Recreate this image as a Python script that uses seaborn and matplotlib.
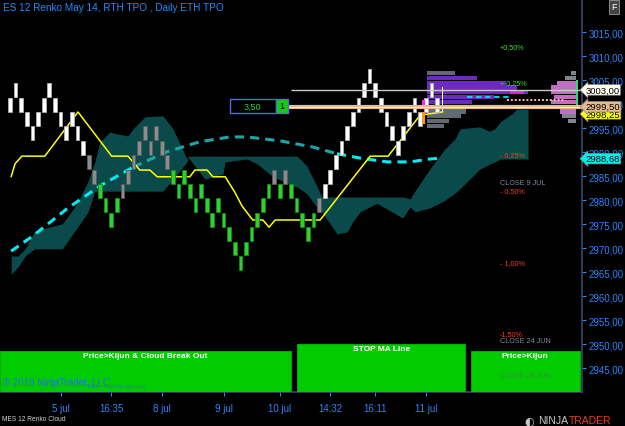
import numpy as np
import pandas as pd
import matplotlib
matplotlib.use("Agg")
import matplotlib.pyplot as plt
import matplotlib.transforms as mtrans
from matplotlib.patches import Rectangle
import seaborn as sns

# ---------------- data ----------------
brick_top = [3001.5, 3004.5, 3001.5, 2998.5, 2995.5, 2998.5, 3001.5, 3004.5, 3001.5, 2998.5,
             2995.5, 2998.5, 2995.5, 2992.5, 2989.5, 2986.5, 2983.5, 2980.5, 2977.5, 2980.5,
             2983.5, 2986.5, 2989.5, 2992.5, 2995.5, 2992.5, 2995.5, 2992.5, 2989.5, 2986.5,
             2983.5, 2986.5, 2983.5, 2980.5, 2983.5, 2980.5, 2977.5, 2980.5, 2977.5, 2974.5,
             2971.5, 2968.5, 2971.5, 2974.5, 2977.5, 2980.5, 2983.5, 2986.5, 2983.5, 2986.5,
             2983.5, 2980.5, 2977.5, 2974.5, 2977.5, 2980.5, 2983.5, 2986.5, 2989.5, 2992.5,
             2995.5, 2998.5, 3001.5, 3004.5, 3007.5, 3004.5, 3001.5, 2998.5, 2995.5, 2992.5,
             2995.5, 2998.5, 3001.5, 2998.5, 3001.5, 3004.5, 3001.5]
brick_kind = ("WWWWWWWWWWWWWW" + "GG" + "LLLL" + "GGGGGGGGG" + "LLLLLLLLLLLLLLLLLL"
              + "GLG" + "LLLLL" + "G" + "WWWWWWWWWWWWWWWWWWWWW")
brick_size = 3.0
forming_brick = (77, 2998.5, 3003.6)

# Ichimoku cloud (bar index, upper span, lower span)
cloud_idx = [0.2, 1.4, 2.7, 4.4, 9.3, 11.9, 13.9, 15.1, 16.0, 17.8, 19.2, 21.0, 21.9, 24.0,
             27.2, 29.0, 31.5, 31.7, 32.6, 34.7, 37.9, 38.3, 42.2, 44.0, 46.8, 50.4, 51.1,
             52.8, 54.6, 55.5, 58.2, 60.0, 61.0, 62.3, 65.3, 69.9, 71.2, 72.1, 74.7, 77.4,
             79.2, 80.1, 83.6, 85.3, 86.3, 87.2, 89.3, 90.2, 92.2]
cloud_top = [2968.4, 2968.4, 2969.9, 2973.6, 2975.1, 2979.2, 2984.0, 2988.0, 2992.2, 2994.2,
             2993.8, 2993.4, 2994.9, 2997.4, 2997.6, 2994.9, 2988.6, 2989.2, 2989.2, 2989.2,
             2989.2, 2989.2, 2989.2, 2989.2, 2989.2, 2989.2, 2989.2, 2987.2, 2983.0, 2980.7,
             2980.7, 2980.7, 2980.7, 2980.7, 2980.7, 2980.7, 2980.3, 2982.0, 2986.5, 2990.7,
             2992.8, 2994.9, 2995.3, 2994.4, 2994.9, 2996.3, 2998.0, 2999.0, 2999.0]
cloud_bot = [2964.6, 2966.1, 2968.4, 2969.9, 2969.9, 2974.2, 2977.6, 2981.9, 2981.9, 2981.9,
             2981.9, 2981.9, 2981.9, 2981.9, 2981.9, 2984.4, 2988.0, 2989.0, 2987.6, 2984.4,
             2985.5, 2988.0, 2988.6, 2987.6, 2984.9, 2983.0, 2982.8, 2981.4, 2978.6, 2977.6,
             2973.0, 2973.4, 2975.5, 2977.6, 2979.4, 2976.3, 2978.6, 2977.6, 2978.4, 2980.0,
             2981.5, 2982.4, 2986.5, 2987.5, 2988.0, 2988.6, 2988.6, 2988.6, 2988.6]

# Kijun (yellow)
kijun_idx = [0.2, 0.9, 2.1, 6.2, 12.1, 18.1, 21.0, 23.1, 24.9, 26.2, 32.0, 32.9, 35.1, 36.1,
             38.3, 40.0, 41.3, 43.2, 45.0, 46.1, 47.2, 55.2, 64.1, 67.3, 73.0, 77.0]
kijun_val = [2984.9, 2987.6, 2989.2, 2989.2, 2998.4, 2989.2, 2989.2, 2986.3, 2986.3, 2984.9,
             2984.9, 2986.3, 2986.3, 2984.9, 2984.9, 2981.7, 2978.8, 2975.9, 2975.9, 2974.4,
             2975.9, 2975.9, 2989.2, 2989.2, 2997.75, 2998.4]

# Moving average (dashed cyan)
ma_idx = [0.2, 4.1, 10.1, 16.0, 21.9, 27.9, 33.8, 39.1, 42.2, 48.0, 53.9, 58.2, 62.3, 67.1,
          71.2, 74.7, 77.0]
ma_val = [2969.4, 2972.6, 2978.2, 2983.0, 2986.9, 2990.1, 2992.2, 2993.2, 2993.2, 2992.4,
          2991.1, 2989.7, 2988.8, 2988.0, 2988.0, 2988.6, 2988.8]

# TPO profile
tpo_price = [3006.5, 3005.5, 3004.5, 3003.5, 3002.5, 3001.5, 3000.5, 2999.5, 2998.5, 2997.5,
             2996.5, 2995.5]
tpo_len = [5, 9, 14, 16, 18, 12, 8, 6, 7, 6, 4, 3]
tpo_purple = [0, 1, 1, 1, 1, 1, 1, 0, 0, 0, 0, 0]
eth_price = [3006.5, 3005.5, 3004.5, 3003.5, 3002.5, 3001.5, 3000.5, 2999.5, 2998.5, 2997.5, 2996.5]
eth_len = [1.0, 2.0, 3.5, 4.5, 4.5, 4.0, 4.5, 4.0, 3.0, 2.5, 1.5]

# percent levels
pct_text = ["+0,50%", "+ 0,25%", "- 0,25%", "CLOSE 9 JUL", "- 0,50%", "- 1,00%", "-1,50%",
            "CLOSE 24 JUN"]
pct_price = [3012.1, 3004.6, 2989.6, 2983.8, 2982.1, 2967.1, 2952.2, 2950.7]
pct_kind = ["up", "up", "dn", "cl", "dn", "dn", "dn", "cl"]

price_tags = [("2998,25", 2998.0, "#ffff00"), ("3003,00", 3003.0, "#fffff0"),
              ("2999,50", 2999.5, "#e6b98c"), ("2988,68", 2988.68, "#00f0f0")]
line_3003 = 3003.0
line_2999 = 2999.5

xtick_pos = [9, 18, 27, 38, 48, 57, 65, 74]
xtick_lab = ["5 jul", "16:35", "8 jul", "9 jul", "10 jul", "14:32", "16:11", "11 jul"]
ytick_vals = [2945, 2950, 2955, 2960, 2965, 2970, 2975, 2980, 2985, 2990, 2995, 3000,
              3005, 3010, 3015]

# ---------------- figure ----------------
sns.set_theme(style="dark")
plt.rcParams["font.family"] = ["Liberation Sans", "DejaVu Sans"]
BLUE = "#2f83ff"

fig = plt.figure(figsize=(6.25, 4.27), dpi=100, facecolor="black")
ax = fig.add_axes([0, 34 / 427, 582 / 625, 393 / 427])
ax.set_facecolor("black")
ax.set_xlim(-1.78, 101.8)
ax.set_ylim(2940.06, 3021.94)

# cloud
ax.fill_between(cloud_idx, cloud_top, cloud_bot, color="#0b4a4a", lw=0, zorder=1)

# moving average (two shades)
ma = pd.DataFrame({"i": ma_idx, "v": ma_val})
seg1 = ma[ma.i <= 21.9]
seg2 = ma[(ma.i >= 21.9) & (ma.i <= 58.2)]
seg3 = ma[ma.i >= 58.2]
for seg, col in [(seg1, "#00ecf0"), (seg2, "#1aa6a8"), (seg3, "#00ecf0")]:
    sns.lineplot(data=seg, x="i", y="v", ax=ax, color=col, lw=2.2, linestyle=(0, (3, 2)),
                 zorder=3, sort=False)

# kijun
kj = pd.DataFrame({"i": kijun_idx, "v": kijun_val})
sns.lineplot(data=kj, x="i", y="v", ax=ax, color="#ffff00", lw=1.1, zorder=4, sort=False)

# bricks
col_map = {"W": ("#ffffff", "#b0b0b0"), "G": ("#8c8c8c", "#5a5a5a"), "L": ("#30d030", "#178a17")}
for i, (top, k) in enumerate(zip(brick_top, brick_kind)):
    fc, ec = col_map[k]
    ax.bar(i, brick_size * 0.97, bottom=top - brick_size, width=0.66, color=fc,
           edgecolor=ec, lw=0.6, zorder=5)
fi, fb, ft = forming_brick
ax.bar(fi, ft - fb, bottom=fb, width=0.25, color="#ffffff", lw=0, zorder=5)

# TPO profiles
for p, L, pur in zip(tpo_price, tpo_len, tpo_purple):
    ax.barh(p, L, left=74.2, height=0.85, color="#7a2fd6" if pur else "#6f7580",
            alpha=0.9, lw=0, zorder=2)
ax.barh(3002.5, 2.5, left=89.0, height=0.6, color="#e020e0", lw=0, zorder=2)
for p, L in zip(eth_price, eth_len):
    ax.barh(p, L, left=100.8 - L, height=0.85,
            color="#c070c0" if 2998 < p < 3005 else "#80848c", lw=0, zorder=2)
ax.bar(100.9, 5.5, bottom=2999.5, width=0.5, color="#22dd77", lw=0, zorder=2)
ax.bar(73.6, 1.2, bottom=2999.6, width=0.45, color="#ff22ff", lw=0, zorder=6)
ax.bar(73.6, 2.6, bottom=2995.8, width=0.45, color="#ff9900", lw=0, zorder=6)

# horizontal levels
ax.hlines(line_3003, 50.0, 101.8, color="#c8c8c8", lw=1.0, zorder=6)
ax.hlines(line_2999, 49.5, 101.8, color="#e8b888", lw=3.0, zorder=6)
ax.hlines(line_2999, 49.5, 101.8, color="#fff0dd", lw=0.7, zorder=6)
ax.hlines(3001.5, 81.3, 89.1, color="#00e5ee", lw=1.3, linestyles=(0, (3, 2)), zorder=6)
ax.hlines(3001.0, 88.4, 98.8, color="#ffb6c8", lw=1.4, linestyles=(0, (1, 1)), zorder=6)

# 3,50 box
ax.add_patch(Rectangle((39.1, 2998.2), 8.2, 2.9, facecolor="black", edgecolor="#4a6fd8",
                       lw=1.0, zorder=7))
ax.add_patch(Rectangle((47.3, 2998.2), 2.2, 2.9, facecolor="#11cc11", edgecolor="#4a6fd8",
                       lw=1.0, zorder=7))
ax.text(43.2, 2999.65, "3,50", color="#33cc33", fontsize=6.5, ha="center", va="center", zorder=8)
ax.text(48.4, 2999.65, "1", color="black", fontsize=6.5, ha="center", va="center", zorder=8)

# percent labels
pc = {"up": "#33dd33", "dn": "#ff3a10", "cl": "#7c8a9a"}
for t, p, k in zip(pct_text, pct_price, pct_kind):
    ax.text(87.2, p, t, color=pc[k], fontsize=5.2, ha="left", va="center", zorder=9)

# bottom signal boxes
for x0, x1, ytop, label in [(-1.78, 50.0, 2948.6, "Price>Kijun & Cloud Break Out"),
                            (51.1, 81.0, 2950.1, "STOP MA Line"),
                            (82.0, 101.4, 2948.6, "Price>Kijun")]:
    ax.add_patch(Rectangle((x0, 2940.06), x1 - x0, ytop - 2940.06, facecolor="#00cc00",
                           edgecolor="#00aa00", lw=0.8, zorder=8))
    ax.text((x0 + x1) / 2, ytop - 0.9, label, color="white", fontsize=6, fontweight="bold",
            ha="center", va="center", zorder=9)
ax.text(87.2, 2943.6, "CLOSE 28 JUN", color="#3f8a3f", fontsize=5.2, ha="left",
        va="center", zorder=9)

# axes styling
ax.yaxis.tick_right()
ax.set_yticks(ytick_vals)
ax.set_yticklabels([f"{v:.2f}".replace(".", ",") for v in ytick_vals])
ax.set_xticks(xtick_pos)
ax.set_xticklabels(xtick_lab)
ax.tick_params(axis="y", colors=BLUE, labelsize=7, length=3, width=0.8, pad=2, right=True, left=False)
ax.tick_params(axis="x", colors=BLUE, labelsize=7, length=3, width=0.8, pad=5, bottom=True)
ax.set_xlabel("")
ax.set_ylabel("")
ax.grid(False)
for s in ["top", "left"]:
    ax.spines[s].set_visible(False)
for s in ["right", "bottom"]:
    ax.spines[s].set_color("#3a4868")
    ax.spines[s].set_linewidth(1.2)

# right price tags
trans = mtrans.blended_transform_factory(ax.transAxes, ax.transData)
for t, p, c in price_tags:
    ax.text(1.006, p, t, transform=trans, color="black", fontsize=6.8, ha="left", va="center",
            clip_on=False, zorder=20,
            bbox=dict(boxstyle="larrow,pad=0.08", facecolor=c, edgecolor="#888888", lw=0.5))

# figure texts
fig.text(3 / 625, 1 - 8 / 427, "ES 12 Renko May 14, RTH TPO , Daily ETH TPO", color="#1e8cff",
         fontsize=7.2, va="center", ha="left")
fig.text(0.982, 1 - 8 / 427, "F", color="white", fontsize=6.5, ha="center", va="center",
         bbox=dict(boxstyle="square,pad=0.25", facecolor="#444444", edgecolor="#999999", lw=0.6))
fig.text(3 / 625, 1 - 383 / 427, "\u00a9 2019 NinjaTrader, LLC", color="#2a6fe0", fontsize=7,
         va="center", ha="left", zorder=30)
fig.text(88 / 625, 1 - 387 / 427, "Fisal - www.fin-alg.com", color="#2a6fe0", fontsize=4,
         va="center", ha="left", zorder=30)
fig.text(2 / 625, 1 - 420 / 427, "MES 12 Renko Cloud", color="#d0d0d0", fontsize=4.8,
         va="center", ha="left")
fig.text(538 / 625, 1 - 421 / 427, "NINJA", color="#c8c8c8", fontsize=7.5, va="center", ha="left")
fig.text(569 / 625, 1 - 421 / 427, "TRADER", color="#e0401a", fontsize=7.5, va="center", ha="left")
fig.text(529 / 625, 1 - 421 / 427, "\u25d0", color="#c8c8c8", fontsize=8, va="center", ha="center",
         family=["DejaVu Sans"])

fig.savefig("out.png", dpi=100, facecolor="black")
